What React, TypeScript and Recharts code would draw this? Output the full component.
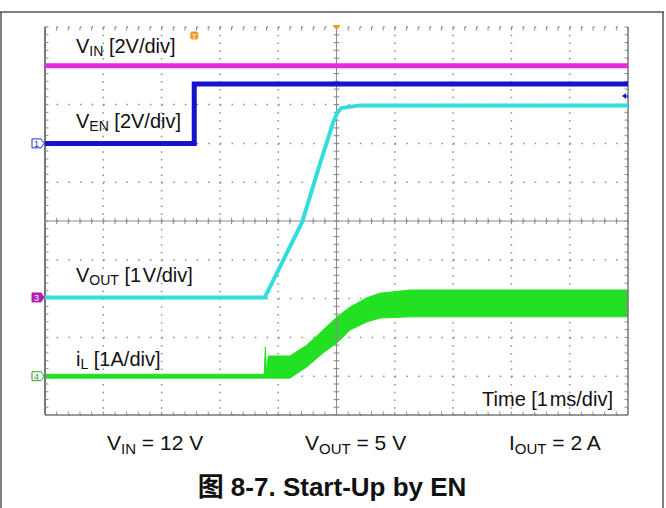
import React from 'react';
import {
  Area,
  CartesianGrid,
  ComposedChart,
  Line,
  ReferenceDot,
  ReferenceLine,
  XAxis,
  YAxis
} from 'recharts';

// screen is 10 x 10 divisions, time axis is 1 ms/div
const divTicks = [0, 1, 2, 3, 4, 5, 6, 7, 8, 9, 10];
const minorTicks = Array.from({ length: 51 }, (_, i) => i / 5);

// trace levels, read in divisions from the bottom of the screen
const vinTime = [0, 10];
const vinLevel = [9.0, 9.0];

const venTime = [0, 2.56, 2.56, 10];
const venLevel = [7.0, 7.0, 8.53, 8.53];

const voutTime = [0, 3.77, 4.41, 4.72, 4.94, 5.01, 5.08, 5.4, 10];
const voutLevel = [3.03, 3.03, 4.97, 6.49, 7.53, 7.78, 7.91, 7.98, 7.98];

const ilTime = [0, 3.76, 3.78, 3.8, 3.83, 4.2, 4.49, 4.77, 5.01, 5.23, 5.52, 5.75, 6.26, 10];
const ilLow = [0.95, 0.95, 0.95, 0.95, 0.95, 0.95, 1.24, 1.6, 1.86, 2.19, 2.4, 2.5, 2.53, 2.53];
const ilHigh = [1.05, 1.05, 1.75, 1.05, 1.52, 1.52, 1.8, 2.19, 2.53, 2.78, 3.02, 3.14, 3.22, 3.22];

const vinData = vinTime.map((t, i) => ({ t, v: vinLevel[i] }));
const venData = venTime.map((t, i) => ({ t, v: venLevel[i] }));
const voutData = voutTime.map((t, i) => ({ t, v: voutLevel[i] }));
const ilData = ilTime.map((t, i) => ({ t, band: [ilLow[i], ilHigh[i]] }));

const FONT = "'Liberation Sans', Arial, 'Noto Sans CJK SC', sans-serif";
const GRID = '#8c8c8c';

const ChannelMark = (props: any) => {
  const { cx, cy, label, color, filled } = props;
  const x = cx - 13;
  return (
    <g>
      <path
        d={`M${x} ${cy - 4.5} h9 l3 4.5 l-3 4.5 h-9 z`}
        fill={filled ? color : '#fff'}
        stroke={color}
        strokeWidth={1}
      />
      <text x={x + 4.5} y={cy + 3.5} fontSize={9} fontFamily={FONT} textAnchor='middle' fill={filled ? '#fff' : color}>
        {label}
      </text>
    </g>
  );
};

const TrigMark = (props: any) => {
  const { cx, cy } = props;
  return (
    <g>
      <rect x={cx - 4} y={cy - 4} width={8} height={8} rx={2} fill='#f39a1e' />
      <text x={cx} y={cy + 3} fontSize={8} fontFamily={FONT} textAnchor='middle' fill='#fff'>T</text>
    </g>
  );
};

const PosMark = (props: any) => {
  const { cx, cy } = props;
  return <path d={`M${cx - 4} ${cy - 2} h8 l-4 5 z`} fill='#f39a1e' />;
};

const LevelMark = (props: any) => {
  const { cx, cy } = props;
  return (
    <g>
      <path d={`M${cx - 6} ${cy} l4 -3 v6 z`} fill='#1414cc' />
      <line x1={cx - 3} y1={cy} x2={cx} y2={cy} stroke='#1414cc' strokeWidth={1.5} />
    </g>
  );
};

// text with a subscript part in the middle
const SubText = ({ x, y, main, sub, rest, size = 14, shift = 3 }: any) => (
  <text x={x} y={y}>
    {main}
    <tspan fontSize={size} dy={shift}>{sub}</tspan>
    <tspan dy={-shift}>{rest}</tspan>
  </text>
);

export default function App() {
  return (
    <div style={{ position: 'absolute', left: 0, top: 0, width: 666, height: 508, background: '#fff' }}>
      <ComposedChart
        width={666}
        height={508}
        margin={{ top: 27, right: 38, bottom: 93, left: 45 }}
      >
        <XAxis type='number' dataKey='t' domain={[0, 10]} ticks={divTicks} hide />
        <YAxis type='number' domain={[0, 10]} ticks={divTicks} hide />
        <CartesianGrid vertical={false} stroke={GRID} strokeWidth={1.5} strokeDasharray='1.5 10.16' />
        <CartesianGrid horizontal={false} stroke={GRID} strokeWidth={1.5} strokeDasharray='1.5 6.26' />

        <ReferenceLine x={5} stroke={GRID} strokeWidth={1} />
        <ReferenceLine y={5} stroke={GRID} strokeWidth={1} />
        <ReferenceLine x={0} stroke='#777' strokeWidth={2} />
        <ReferenceLine x={10} stroke='#777' strokeWidth={1.5} />
        <ReferenceLine y={0} stroke='#777' strokeWidth={1.5} />
        {minorTicks.map(m => (
          <React.Fragment key={m}>
            <ReferenceLine segment={[{ x: m, y: 4.92 }, { x: m, y: 5.08 }]} stroke={GRID} />
            <ReferenceLine segment={[{ x: 4.95, y: m }, { x: 5.05, y: m }]} stroke={GRID} />
            <ReferenceLine segment={[{ x: 0, y: m }, { x: 0.06, y: m }]} stroke={GRID} />
            <ReferenceLine segment={[{ x: 9.94, y: m }, { x: 10, y: m }]} stroke={GRID} />
            <ReferenceLine segment={[{ x: m, y: 0 }, { x: m, y: 0.09 }]} stroke={GRID} />
            <ReferenceLine segment={[{ x: m, y: 9.91 }, { x: m, y: 10 }]} stroke={GRID} />
          </React.Fragment>
        ))}

        <Area
          data={ilData}
          dataKey='band'
          type='linear'
          stroke='#22e022'
          strokeWidth={1}
          fill='#22e022'
          fillOpacity={1}
          isAnimationActive={false}
        />
        <Line data={voutData} dataKey='v' type='linear' stroke='#33dddd' strokeWidth={4} dot={false} isAnimationActive={false} />
        <Line data={venData} dataKey='v' type='linear' stroke='#1414cc' strokeWidth={5} dot={false} isAnimationActive={false} />
        <Line data={vinData} dataKey='v' type='linear' stroke='#e629e0' strokeWidth={5} dot={false} isAnimationActive={false} />

        <ReferenceDot x={0} y={venLevel[0]} ifOverflow='visible' shape={<ChannelMark label='1' color='#2a2ae0' />} />
        <ReferenceDot x={0} y={voutLevel[0]} ifOverflow='visible' shape={<ChannelMark label='3' color='#b41eb4' filled />} />
        <ReferenceDot x={0} y={1.0} ifOverflow='visible' shape={<ChannelMark label='4' color='#2aa52a' />} />
        <ReferenceDot x={2.56} y={9.78} ifOverflow='visible' shape={<TrigMark />} />
        <ReferenceDot x={5} y={10} ifOverflow='visible' shape={<PosMark />} />
        <ReferenceDot x={10} y={8.22} ifOverflow='visible' shape={<LevelMark />} />
      </ComposedChart>

      <svg width={666} height={508} style={{ position: 'absolute', left: 0, top: 0, pointerEvents: 'none' }}>
        <line x1={0} y1={12} x2={664} y2={12} stroke='#555' strokeWidth={1.5} />
        <line x1={1} y1={12} x2={1} y2={508} stroke='#555' strokeWidth={1.5} />
        <line x1={663} y1={12} x2={663} y2={508} stroke='#555' strokeWidth={1.5} />

        <g fontFamily={FONT} fontSize={20} fill='#111'>
          <SubText x={76} y={53} main='V' sub='IN' rest=' [2V/div]' />
          <SubText x={76} y={128} main='V' sub='EN' rest=' [2V/div]' />
          <SubText x={76} y={282} main='V' sub='OUT' rest={' [1\u200aV/div]'} />
          <SubText x={76} y={366} main='i' sub='L' rest=' [1A/div]' />
          <text x={613} y={406} textAnchor='end'>{'Time [1\u200ams/div]'}</text>
        </g>

        <g fontFamily={FONT} fontSize={21} fill='#111'>
          <SubText x={107} y={450} main='V' sub='IN' rest=' = 12 V' size={15} shift={4} />
          <SubText x={305} y={450} main='V' sub='OUT' rest=' = 5 V' size={15} shift={4} />
          <SubText x={509} y={450} main='I' sub='OUT' rest=' = 2 A' size={15} shift={4} />
        </g>
        <text x={332} y={496} textAnchor='middle' fontFamily={FONT} fontSize={26} fontWeight='bold' fill='#111'>
          图 8-7. Start-Up by EN
        </text>
      </svg>
    </div>
  );
}
